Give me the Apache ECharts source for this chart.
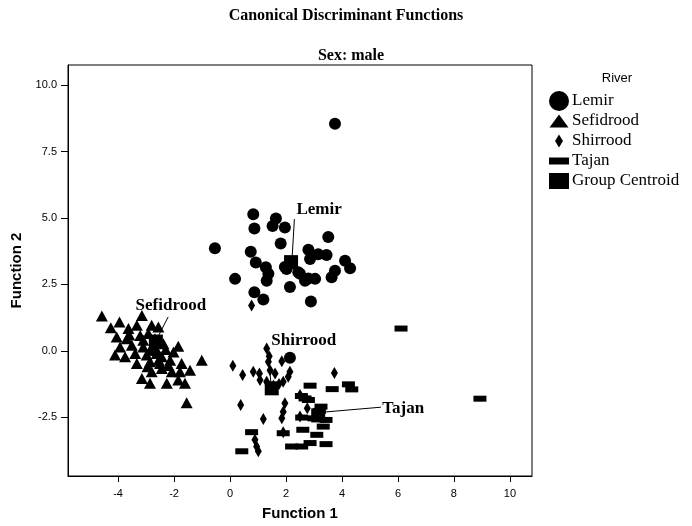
<!DOCTYPE html>
<html>
<head>
<meta charset="utf-8">
<script src="https://cdn.jsdelivr.net/npm/echarts@6/dist/echarts.min.js"></script>
<style>
  html, body { margin: 0; padding: 0; background: #fff; }
  #chart { width: 692px; height: 526px; }
</style>
</head>
<body>
<div id="chart"></div>
<script>
// discriminant scores per river, [function 1, function 2]
const lemir = [
  [0.83, 5.14], [0.87, 4.61], [1.64, 4.98], [1.52, 4.70], [1.96, 4.64], [-0.54, 3.86],
  [1.81, 4.04], [3.51, 4.29], [0.74, 3.73], [0.92, 3.33], [1.28, 3.15], [1.37, 2.90],
  [1.31, 2.64], [0.18, 2.71], [0.87, 2.21], [1.19, 1.93], [2.14, 2.40], [2.89, 1.86],
  [2.80, 3.81], [2.86, 3.46], [3.15, 3.64], [3.45, 3.61], [2.02, 3.08], [2.44, 2.96],
  [2.68, 2.64], [3.04, 2.71], [4.11, 3.39], [4.29, 3.11], [3.75, 3.02], [3.63, 2.77],
  [1.96, 3.16], [2.50, 2.90], [2.80, 2.72], [3.75, 8.55], [2.14, -0.26]
];
const sefidrood = [
  [-4.58, 1.31], [-3.15, 1.33], [-3.95, 1.09], [-4.26, 0.87], [-3.63, 0.84], [-3.33, 0.96],
  [-2.80, 0.96], [-2.56, 0.90], [-4.05, 0.52], [-3.69, 0.46], [-3.21, 0.58], [-2.92, 0.65],
  [-3.93, 0.15], [-3.51, 0.21], [-3.10, 0.15], [-2.74, 0.21], [-2.38, 0.27], [-1.85, 0.17],
  [-4.11, -0.16], [-3.75, -0.22], [-3.39, -0.10], [-2.98, -0.16], [-2.62, -0.10], [-2.02, -0.04],
  [-3.33, -0.48], [-2.86, -0.41], [-2.50, -0.48], [-2.14, -0.35], [-1.73, -0.48], [-1.01, -0.35],
  [-1.43, -0.73], [-1.79, -0.79], [-2.80, -0.79], [-2.44, -0.66], [-2.08, -0.79], [-3.15, -1.04],
  [-2.86, -1.22], [-2.26, -1.22], [-1.85, -1.10], [-1.61, -1.22], [-1.55, -1.95], [-2.62, 0.02],
  [-2.44, -0.22], [-2.86, 0.02], [-3.10, 0.40], [-2.68, 0.46], [-2.30, 0.05], [-2.55, -0.35],
  [-2.20, -0.55], [-2.95, -0.60], [-3.60, 0.60]
];
const shirrood = [
  [1.31, 0.09], [0.10, -0.56], [0.45, -0.91], [0.83, -0.79], [1.05, -0.85], [1.37, -0.41],
  [1.85, -0.39], [1.43, -0.73], [1.61, -0.85], [2.14, -0.79], [2.08, -0.97], [3.73, -0.83],
  [1.07, -1.10], [1.90, -1.16], [1.31, -1.16], [0.38, -2.04], [1.96, -1.97], [1.90, -2.29],
  [1.85, -2.54], [1.19, -2.56], [2.76, -2.16], [2.50, -1.66], [1.90, -3.06], [0.89, -3.35],
  [0.95, -3.60], [1.01, -3.78], [2.50, -2.47], [0.77, 1.71], [1.40, -0.20], [1.55, -1.30],
  [1.75, -1.25]
];
const tajan = [
  [2.86, -1.31], [3.65, -1.44], [4.23, -1.26], [4.35, -1.45], [2.68, -1.79], [2.80, -1.85],
  [3.19, -2.26], [2.56, -2.51], [3.00, -2.54], [3.43, -2.60], [3.33, -2.85], [2.60, -2.97],
  [3.10, -3.16], [0.77, -3.06], [1.90, -3.10], [2.20, -3.60], [2.56, -3.60], [2.86, -3.47],
  [3.43, -3.51], [0.42, -3.78], [6.11, 0.84], [8.93, -1.80], [3.25, -2.10], [2.55, -1.70]
];
const centroidNames = ['Lemir', 'Sefidrood', 'Shirrood', 'Tajan'];
const centroids = [[2.18, 3.34], [-2.65, 0.35], [1.49, -1.41], [3.15, -2.43]];
// leader line from each group label down to its centroid
const leaders = [
  [[2.30, 4.96], [2.22, 3.53]],
  [[-2.21, 1.28], [-2.57, 0.54]],
  [[1.32, 0.24], [1.46, -1.19]],
  [[5.39, -2.12], [3.29, -2.31]]
];
const xTicks = [-4, -2, 0, 2, 4, 6, 8, 10];
const yTicks = [-2.5, 0, 2.5, 5, 7.5, 10];

// label offsets (px) from the centroid
const labelOffsets = {
  Lemir: [28, -53], Sefidrood: [15, -36], Shirrood: [32, -48], Tajan: [85, -7]
};

const serif = 'Liberation Serif, Times New Roman, serif';
const sans = 'Liberation Sans, Arial, sans-serif';

const chart = echarts.init(document.getElementById('chart'));

function pointSeries(name, data, symbol, size) {
  return {
    name: name,
    type: 'scatter',
    data: data,
    symbol: symbol,
    symbolSize: size,
    itemStyle: { color: '#000', opacity: 1 },
    emphasis: { disabled: true },
    z: 2
  };
}

chart.setOption({
  animation: false,
  backgroundColor: '#fff',
  title: {
    text: 'Canonical Discriminant Functions',
    left: 'center',
    top: 8,
    padding: 0,
    textStyle: { fontFamily: serif, fontSize: 16, fontWeight: 'bold', color: '#000' }
  },
  graphic: [
    {
      type: 'text', x: 351, y: 56,
      style: { text: 'Sex: male', align: 'center', verticalAlign: 'middle',
               font: 'bold 16px ' + serif, fill: '#000' }
    },
    {
      type: 'text', x: 617, y: 78,
      style: { text: 'River', align: 'center', verticalAlign: 'middle',
               font: '13px ' + sans, fill: '#000' }
    }
  ],
  legend: {
    orient: 'vertical',
    left: 549,
    top: 91,
    padding: 0,
    itemWidth: 20,
    itemHeight: 20,
    itemGap: 0,
    selectedMode: false,
    textStyle: { fontFamily: serif, fontSize: 17, color: '#000', padding: [0, 0, 0, -2] },
    data: [
      { name: 'Lemir', icon: 'circle' },
      { name: 'Sefidrood', icon: 'path://M0,0M20,20M0.5,16.5L10,3.5L19.5,16.5Z' },
      { name: 'Shirrood', icon: 'path://M0,0M20,20M10,3.5L14,10L10,16.5L6,10Z' },
      { name: 'Tajan', icon: 'path://M0,0M20,20M0,6.5H20V13.5H0Z' },
      { name: 'Group Centroid', icon: 'path://M0,0M20,20M0,2H20V18H0Z' }
    ]
  },
  grid: {
    left: 68, right: 160, top: 65, bottom: 48,
    show: true, borderColor: '#000', borderWidth: 1
  },
  xAxis: {
    type: 'value',
    min: -5.79,
    max: 10.79,
    name: 'Function 1',
    nameLocation: 'middle',
    nameGap: 30,
    nameTextStyle: { fontFamily: sans, fontSize: 15, fontWeight: 'bold', color: '#000' },
    axisLine: { show: true, onZero: false, lineStyle: { color: '#000', width: 1 } },
    axisTick: { show: true, length: 6, customValues: xTicks, lineStyle: { color: '#000' } },
    axisLabel: { customValues: xTicks, margin: 12, fontFamily: sans, fontSize: 11, color: '#000' },
    splitLine: { show: false }
  },
  yAxis: {
    type: 'value',
    min: -4.71,
    max: 10.76,
    name: 'Function 2',
    nameLocation: 'middle',
    nameGap: 40,
    nameRotate: 90,
    nameTextStyle: { fontFamily: sans, fontSize: 15, fontWeight: 'bold', color: '#000' },
    axisLine: { show: true, onZero: false, lineStyle: { color: '#000', width: 1 } },
    axisTick: { show: true, length: 7, customValues: yTicks, lineStyle: { color: '#000' } },
    axisLabel: {
      customValues: yTicks, margin: 11, fontFamily: sans, fontSize: 11, color: '#000',
      formatter: v => Number(v).toFixed(1)
    },
    splitLine: { show: false }
  },
  series: [
    pointSeries('Lemir', lemir, 'circle', 12),
    pointSeries('Sefidrood', sefidrood, 'triangle', [12, 11]),
    pointSeries('Shirrood', shirrood, 'diamond', [7, 12]),
    pointSeries('Tajan', tajan, 'rect', [13, 6]),
    {
      name: 'Group Centroid',
      type: 'scatter',
      symbol: 'rect',
      symbolSize: 14,
      itemStyle: { color: '#000', opacity: 1 },
      emphasis: { disabled: true },
      z: 4,
      data: centroids.map((c, i) => ({
        name: centroidNames[i],
        value: c,
        label: { offset: labelOffsets[centroidNames[i]] }
      })),
      label: {
        show: true,
        position: 'inside',
        formatter: p => p.name,
        fontFamily: serif,
        fontSize: 17,
        fontWeight: 'bold',
        color: '#000'
      }
    },
    {
      type: 'lines',
      coordinateSystem: 'cartesian2d',
      z: 3,
      silent: true,
      lineStyle: { color: '#000', width: 1, opacity: 1 },
      data: leaders.map(l => ({ coords: l }))
    }
  ]
});
</script>
</body>
</html>
